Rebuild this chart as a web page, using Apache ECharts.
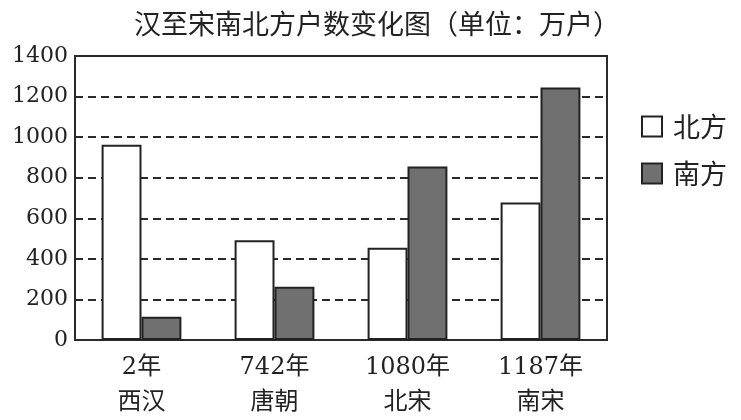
<!DOCTYPE html>
<html><head><meta charset="utf-8">
<script src="https://cdn.jsdelivr.net/npm/echarts@6/dist/echarts.min.js"></script>
<style>html,body{margin:0;padding:0;background:#fff}#c{width:741px;height:420px}</style>
</head><body><div id="c"></div>
<script>
const titleText = '汉至宋南北方户数变化图（单位：万户）';
const years = ['2年', '742年', '1080年', '1187年'];
const dynasties = ['西汉', '唐朝', '北宋', '南宋'];
const seriesNames = ['北方', '南方'];
const northValues = [962, 492, 455, 678];
const southValues = [115, 262, 855, 1245];
const yTicks = [0, 200, 400, 600, 800, 1000, 1200, 1400];

const categories = years.map((y, i) => y + '\n' + dynasties[i]);
const chart = echarts.init(document.getElementById('c'));
chart.setOption({
  backgroundColor: '#fff',
  animation: false,
  title: {
    text: titleText, left: 372, top: 5, textAlign: 'center',
    textStyle: { fontFamily: 'Noto Sans CJK SC', fontWeight: 'normal', fontSize: 27, color: '#222' }
  },
  legend: {
    orient: 'vertical', left: 636, top: 108, itemWidth: 20, itemHeight: 20, itemGap: 20,
    icon: 'rect',
    textStyle: { fontFamily: 'Noto Sans CJK SC', fontSize: 27, color: '#222', padding: [0, 0, 0, 6] },
    data: seriesNames
  },
  grid: { left: 75, right: 134, top: 56, bottom: 78, show: true, borderColor: '#2a2a2a', borderWidth: 2, backgroundColor: 'transparent' },
  xAxis: {
    type: 'category', data: categories,
    axisLine: { show: true, lineStyle: { color: '#2a2a2a', width: 2 } },
    axisTick: { show: false },
    axisLabel: { margin: 10, fontFamily: 'DejaVu Serif, Noto Sans CJK SC', fontSize: 24, lineHeight: 35, color: '#222' }
  },
  yAxis: {
    type: 'value', min: yTicks[0], max: yTicks[yTicks.length - 1], interval: 200,
    axisLine: { show: true, lineStyle: { color: '#2a2a2a', width: 2 } },
    axisTick: { show: false },
    axisLabel: { margin: 7, fontFamily: 'DejaVu Serif', fontSize: 22, color: '#222', formatter: v => String(v) },
    splitLine: { show: true, lineStyle: { color: '#2a2a2a', width: 2, type: [8, 5] } }
  },
  series: [
    { name: seriesNames[0], type: 'bar', data: northValues, barGap: '0%', barCategoryGap: '40%',
      itemStyle: { color: '#ffffff', borderColor: '#222', borderWidth: 2 } },
    { name: seriesNames[1], type: 'bar', data: southValues,
      itemStyle: { color: '#707070', borderColor: '#222', borderWidth: 2 } }
  ]
});
</script></body></html>
